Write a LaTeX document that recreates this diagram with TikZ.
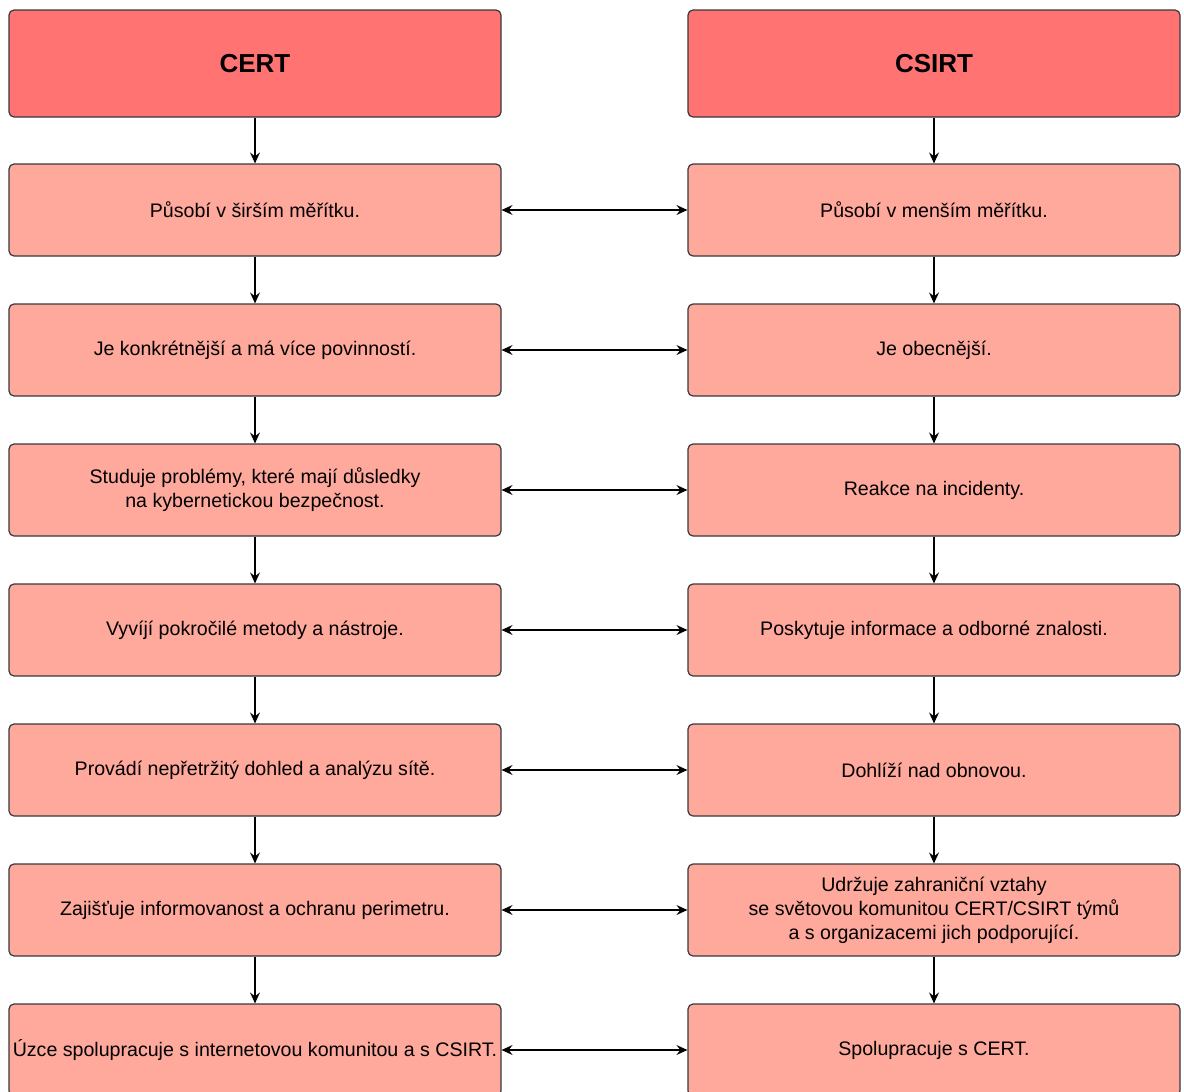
\documentclass[tikz,border=0pt]{standalone}
\usepackage{fontspec}
\setmainfont{Liberation Sans}
\usetikzlibrary{arrows.meta}
\definecolor{headfill}{RGB}{255,115,115}
\definecolor{rowfill}{RGB}{255,168,156}
\definecolor{edge}{RGB}{54,57,61}
\tikzset{
  x=1pt, y=-1pt,
  box/.style={draw=edge, line width=1.2pt, rounded corners=5pt, minimum width=492pt,
    inner sep=0pt, align=center, text=black},
  headbox/.style={box, fill=headfill, minimum height=107pt, font=\fontsize{26}{30}\selectfont\bfseries},
  rowbox/.style={box, fill=rowfill, minimum height=92pt, font=\fontsize{19.6}{24}\selectfont},
  flow/.style={line width=1.2pt, -{Stealth[length=11pt,width=10pt,inset=4pt]}},
  link/.style={line width=1.2pt, {Stealth[length=11pt,width=10pt,inset=4pt]}-{Stealth[length=11pt,width=10pt,inset=4pt]}}
}
\begin{document}
\begin{tikzpicture}
\useasboundingbox (0,0) rectangle (1184,1092);
\clip (0,0) rectangle (1184,1092);

% column headers
\node[headbox] (l0) at (255,63.5) {CERT};
\node[headbox] (r0) at (934,63.5) {CSIRT};

% CERT column
\node[rowbox] (l1) at (255,210) {Působí v širším měřítku.};
\node[rowbox] (l2) at (255,350) {Je konkrétnější a má více povinností.};
\node[rowbox] (l3) at (255,490) {Studuje problémy, které mají důsledky\\ na kybernetickou bezpečnost.};
\node[rowbox] (l4) at (255,630) {Vyvíjí pokročilé metody a nástroje.};
\node[rowbox] (l5) at (255,770) {Provádí nepřetržitý dohled a analýzu sítě.};
\node[rowbox] (l6) at (255,910) {Zajišťuje informovanost a ochranu perimetru.};
\node[rowbox] (l7) at (255,1050) {Úzce spolupracuje s internetovou komunitou a s CSIRT.};

% CSIRT column
\node[rowbox] (r1) at (934,210) {Působí v menším měřítku.};
\node[rowbox] (r2) at (934,350) {Je obecnější.};
\node[rowbox] (r3) at (934,490) {Reakce na incidenty.};
\node[rowbox] (r4) at (934,630) {Poskytuje informace a odborné znalosti.};
\node[rowbox] (r5) at (934,770) {Dohlíží nad obnovou.};
\node[rowbox] (r6) at (934,910) {Udržuje zahraniční vztahy\\ se světovou komunitou CERT/CSIRT týmů\\ a s organizacemi jich podporující.};
\node[rowbox] (r7) at (934,1050) {Spolupracuje s CERT.};

% vertical flow and horizontal links
\foreach \i [evaluate=\i as \j using int(\i+1)] in {0,...,6} {
  \draw[flow] (l\i.south) -- (l\j.north);
  \draw[flow] (r\i.south) -- (r\j.north);
}
\foreach \i in {1,...,7} {
  \draw[link] (l\i.east) -- (r\i.west);
}
\end{tikzpicture}
\end{document}
